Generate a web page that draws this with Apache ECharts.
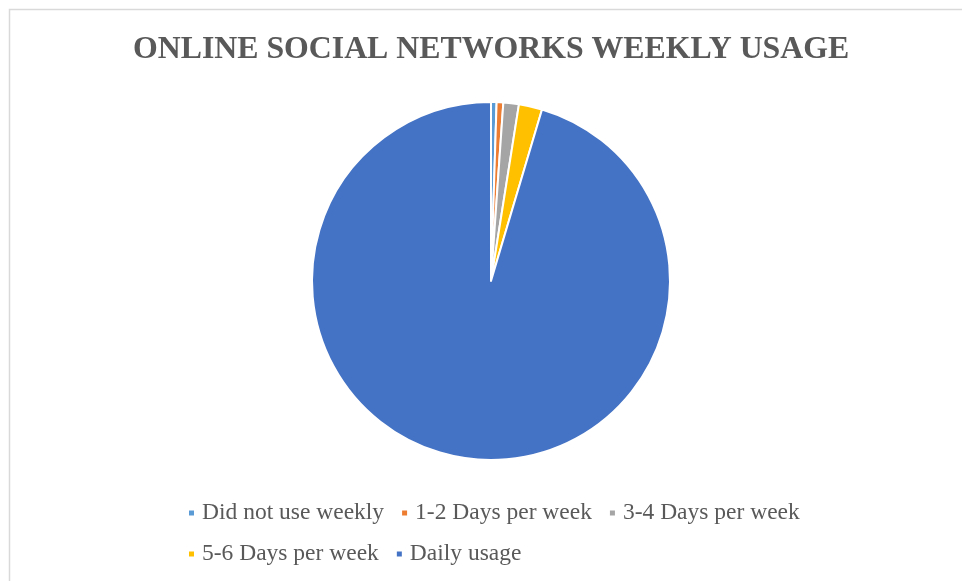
<!DOCTYPE html>
<html>
<head>
<meta charset="utf-8">
<script src="https://cdn.jsdelivr.net/npm/echarts@6/dist/echarts.min.js"></script>
<style>
  html, body { margin: 0; padding: 0; background: #ffffff; }
  #chart { width: 962px; height: 581px; }
</style>
</head>
<body>
<div id="chart"></div>
<script>
// Weekly usage of online social networks (share of respondents, %)
const categories = [
  'Did not use weekly',
  '1-2 Days per week',
  '3-4 Days per week',
  '5-6 Days per week',
  'Daily usage'
];
const shares = [0.5, 0.6, 1.4, 2.1, 95.4];
const palette = ['#5B9BD5', '#ED7D31', '#A5A5A5', '#FFC000', '#4472C4'];

const rowOne = categories.slice(0, 3);
const rowTwo = categories.slice(3);

const serif = '"Liberation Serif", "Times New Roman", serif';

const legendBase = {
  orient: 'horizontal',
  icon: 'rect',
  itemWidth: 7,
  itemHeight: 7,
  itemGap: 16,
  selectedMode: false,
  textStyle: { fontFamily: serif, fontSize: 23.5, color: '#595959', padding: [0, 0, 0, 2] }
};

const chart = echarts.init(document.getElementById('chart'), null, { renderer: 'canvas' });
chart.setOption({
  backgroundColor: '#ffffff',
  animation: false,
  color: palette,
  title: {
    text: 'ONLINE SOCIAL NETWORKS WEEKLY USAGE',
    left: 128,
    top: 29,
    textStyle: { fontFamily: serif, fontSize: 31.8, fontWeight: 'bold', color: '#595959' }
  },
  graphic: [{
    type: 'rect',
    silent: true,
    shape: { x: 9.5, y: 9.5, width: 1000, height: 700 },
    style: { fill: 'none', stroke: '#d9d9d9', lineWidth: 1.5 }
  }],
  legend: [
    Object.assign({}, legendBase, { data: rowOne, left: 182, top: 496 }),
    Object.assign({}, legendBase, { data: rowTwo, left: 182, top: 537 })
  ],
  series: [{
    type: 'pie',
    center: [491, 281],
    radius: 179,
    startAngle: 90,
    clockwise: true,
    label: { show: false },
    labelLine: { show: false },
    itemStyle: { borderColor: '#ffffff', borderWidth: 2 },
    emphasis: { disabled: true },
    data: categories.map((name, i) => ({ name: name, value: shares[i] }))
  }]
});
</script>
</body>
</html>
